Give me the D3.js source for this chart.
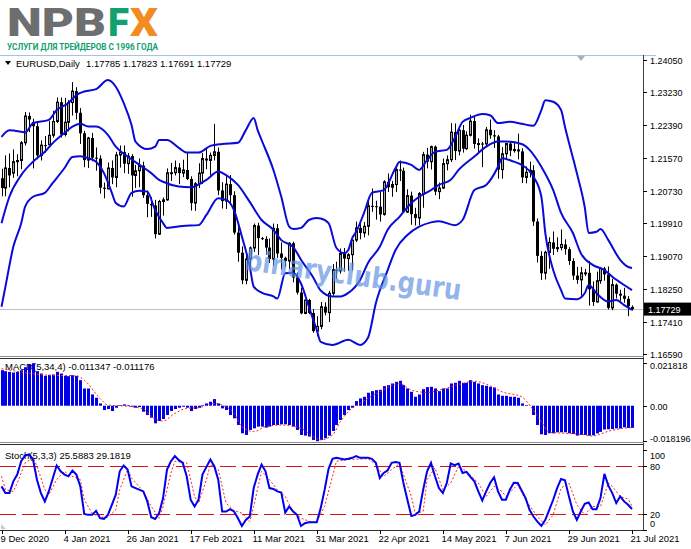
<!DOCTYPE html>
<html><head><meta charset="utf-8">
<script src="https://cdn.jsdelivr.net/npm/d3@7/dist/d3.min.js"></script>
<style>html,body{margin:0;padding:0;background:#fff;}svg{display:block;}</style>
</head><body>
<svg id="chart" width="691" height="549"></svg>
<script>
// ---------- DATA ----------
const symbol = "EURUSD,Daily";
const lastQuote = ["1.17785","1.17823","1.17691","1.17729"];
const lastPrice = 1.17729;

const open = [1.2105,1.2080,1.2131,1.2118,1.2147,1.2150,1.2195,1.2263,1.2248,1.2237,1.2163,1.2189,1.2190,1.2214,1.2249,1.2298,1.2216,1.2247,1.2297,1.2326,1.2271,1.2219,1.2151,1.2207,1.2157,1.2155,1.2081,1.2078,1.2131,1.2107,1.2164,1.2171,1.2142,1.2161,1.2112,1.2124,1.2137,1.2062,1.2040,1.2036,1.1963,1.2046,1.2050,1.2119,1.2119,1.2132,1.2118,1.2126,1.2103,1.2042,1.2091,1.2118,1.2155,1.2150,1.2163,1.2172,1.2074,1.2047,1.2090,1.2062,1.1967,1.1916,1.1846,1.1900,1.1928,1.1985,1.1953,1.1951,1.1929,1.1900,1.1978,1.1914,1.1903,1.1895,1.1940,1.1853,1.1815,1.1762,1.1796,1.1763,1.1717,1.1729,1.1779,1.1764,1.1813,1.1873,1.1870,1.1914,1.1901,1.1911,1.1948,1.1979,1.1966,1.1983,1.2035,1.2034,1.2033,1.2013,1.2096,1.2082,1.2089,1.2127,1.2124,1.2019,1.2061,1.2014,1.2004,1.2066,1.2165,1.2147,1.2185,1.2071,1.2080,1.2142,1.2152,1.2222,1.2174,1.2227,1.2180,1.2214,1.2250,1.2192,1.2193,1.2192,1.2228,1.2214,1.2211,1.2127,1.2167,1.2193,1.2175,1.2178,1.2173,1.2107,1.2120,1.2125,1.1995,1.1908,1.1864,1.1917,1.1942,1.1926,1.1929,1.1937,1.1925,1.1895,1.1858,1.1847,1.1865,1.1865,1.1823,1.1791,1.1845,1.1876,1.1861,1.1776,1.1835,1.1812,1.1807,1.1799,1.17785];
const high = [1.2129,1.2163,1.2168,1.2178,1.2166,1.2199,1.2273,1.2272,1.2256,1.2245,1.2201,1.2212,1.2250,1.2276,1.2310,1.2310,1.2309,1.2303,1.2349,1.2336,1.2283,1.2225,1.2210,1.2220,1.2183,1.2163,1.2094,1.2145,1.2150,1.2172,1.2188,1.2188,1.2169,1.2166,1.2139,1.2155,1.2147,1.2074,1.2057,1.2050,1.2050,1.2056,1.2130,1.2144,1.2150,1.2143,1.2152,1.2169,1.2110,1.2095,1.2143,1.2169,1.2180,1.2170,1.2243,1.2183,1.2095,1.2110,1.2113,1.2072,1.1990,1.1932,1.1912,1.1932,1.1990,1.1992,1.1956,1.1958,1.1952,1.1990,1.1989,1.1942,1.1906,1.1943,1.1944,1.1866,1.1827,1.1797,1.1799,1.1773,1.1755,1.1791,1.1790,1.1819,1.1887,1.1893,1.1927,1.1928,1.1915,1.1949,1.1995,1.1995,1.1994,1.2048,1.2079,1.2048,1.2070,1.2100,1.2117,1.2098,1.2131,1.2150,1.2132,1.2077,1.2071,1.2030,1.2070,1.2172,1.2182,1.2188,1.2188,1.2094,1.2155,1.2163,1.2245,1.2244,1.2230,1.2240,1.2224,1.2266,1.2262,1.2206,1.2197,1.2235,1.2254,1.2227,1.2215,1.2184,1.2194,1.2199,1.2195,1.2218,1.2181,1.2135,1.2147,1.2138,1.2003,1.1920,1.1921,1.1955,1.1970,1.1955,1.1975,1.1950,1.1930,1.1902,1.1880,1.1880,1.1875,1.1895,1.1843,1.1868,1.1880,1.1880,1.1881,1.1850,1.1838,1.1822,1.1827,1.1806,1.17823];
const low = [1.2059,1.2059,1.2082,1.2106,1.2110,1.2128,1.2188,1.2222,1.2130,1.2153,1.2150,1.2170,1.2190,1.2208,1.2245,1.2208,1.2211,1.2224,1.2264,1.2254,1.2192,1.2133,1.2131,1.2148,1.2124,1.2066,1.2054,1.2077,1.2090,1.2082,1.2132,1.2118,1.2116,1.2058,1.2080,1.2082,1.2055,1.2006,1.2007,1.1952,1.1961,1.2010,1.2048,1.2098,1.2112,1.2090,1.2108,1.2100,1.2023,1.2022,1.2080,1.2090,1.2128,1.2112,1.2150,1.2062,1.2028,1.2027,1.2038,1.1962,1.1893,1.1836,1.1836,1.1871,1.1918,1.1910,1.1948,1.1911,1.1890,1.1883,1.1903,1.1873,1.1880,1.1874,1.1841,1.1810,1.1760,1.1760,1.1760,1.1713,1.1704,1.1722,1.1757,1.1740,1.1807,1.1850,1.1863,1.1868,1.1870,1.1871,1.1943,1.1950,1.1955,1.1960,1.2020,1.2000,1.1995,1.2010,1.2070,1.2058,1.2070,1.2098,1.2018,1.2017,1.1987,1.1985,1.1986,1.2030,1.2130,1.2127,1.2062,1.2052,1.2078,1.2125,1.2146,1.2151,1.2163,1.2170,1.2177,1.2211,1.2180,1.2170,1.2133,1.2185,1.2205,1.2182,1.2104,1.2104,1.2154,1.2161,1.2170,1.2153,1.2093,1.2092,1.2107,1.1984,1.1891,1.1847,1.1848,1.1875,1.1910,1.1918,1.1922,1.1911,1.1885,1.1847,1.1837,1.1807,1.1857,1.1782,1.1781,1.1790,1.1837,1.1845,1.1772,1.1770,1.1800,1.1794,1.1789,1.1755,1.17691];
const close = [1.2080,1.2131,1.2112,1.2147,1.2150,1.2195,1.2263,1.2254,1.2237,1.2163,1.2189,1.2187,1.2214,1.2249,1.2298,1.2216,1.2247,1.2297,1.2326,1.2271,1.2219,1.2151,1.2207,1.2157,1.2155,1.2081,1.2078,1.2131,1.2107,1.2164,1.2171,1.2142,1.2161,1.2112,1.2124,1.2137,1.2062,1.2040,1.2036,1.1963,1.2046,1.2050,1.2119,1.2119,1.2132,1.2118,1.2126,1.2103,1.2042,1.2091,1.2118,1.2155,1.2150,1.2163,1.2172,1.2074,1.2047,1.2090,1.2062,1.1967,1.1916,1.1846,1.1900,1.1928,1.1985,1.1953,1.1951,1.1929,1.1900,1.1978,1.1914,1.1903,1.1895,1.1940,1.1853,1.1815,1.1762,1.1796,1.1763,1.1717,1.1729,1.1779,1.1764,1.1813,1.1873,1.1870,1.1914,1.1901,1.1911,1.1948,1.1979,1.1966,1.1983,1.2035,1.2034,1.2033,1.2013,1.2096,1.2082,1.2089,1.2127,1.2124,1.2019,1.2061,1.2014,1.2004,1.2066,1.2165,1.2147,1.2185,1.2071,1.2080,1.2142,1.2152,1.2222,1.2174,1.2227,1.2180,1.2214,1.2250,1.2192,1.2193,1.2192,1.2228,1.2214,1.2211,1.2127,1.2167,1.2193,1.2175,1.2178,1.2173,1.2107,1.2120,1.2125,1.1995,1.1908,1.1864,1.1917,1.1942,1.1926,1.1929,1.1937,1.1925,1.1895,1.1858,1.1847,1.1865,1.1865,1.1823,1.1791,1.1845,1.1876,1.1861,1.1776,1.1835,1.1812,1.1807,1.1799,1.1780,1.17729];

// Bollinger bands: [bar index, price]
const bandUpper = [[0,1.2210],[2,1.2227],[5,1.2223],[6,1.2221],[8,1.2245],[12,1.2253],[14,1.2278],[17,1.2296],[19,1.2316],[21,1.2325],[24,1.2331],[27,1.2354],[29,1.2337],[31,1.2296],[33,1.2240],[34,1.2198],[37,1.2179],[39,1.2185],[40,1.2202],[42,1.2202],[45,1.2182],[47,1.2170],[50,1.2170],[53,1.2187],[56,1.2192],[60,1.2195],[62,1.2227],[64,1.2258],[65,1.2227],[66,1.2202],[69,1.2126],[71,1.2058],[73,1.1982],[74,1.1976],[76,1.1979],[78,1.1999],[80,1.2004],[81,1.2003],[83,1.1991],[85,1.1928],[87,1.1915],[88,1.1923],[89,1.1953],[90,1.1969],[92,1.2017],[94,1.2068],[97,1.2075],[100,1.2131],[101,1.2146],[104,1.2139],[106,1.2126],[108,1.2151],[110,1.2172],[113,1.2177],[115,1.2207],[117,1.2248],[119,1.2258],[122,1.2268],[124,1.2265],[126,1.2245],[129,1.2248],[132,1.2243],[135,1.2238],[137,1.2278],[138,1.2303],[140,1.2299],[142,1.2278],[143,1.2235],[146,1.2118],[148,1.2032],[149,1.1966],[151,1.1969],[152,1.1976],[154,1.1948],[157,1.1898],[159,1.1880],[160,1.1877]];
const bandMiddle = [[0,1.1991],[2,1.2058],[5,1.2113],[8,1.2147],[11,1.2172],[13,1.2194],[16,1.2220],[18,1.2236],[20,1.2243],[22,1.2236],[24,1.2236],[27,1.2215],[29,1.2185],[32,1.2160],[35,1.2139],[38,1.2118],[40,1.2101],[41,1.2096],[45,1.2084],[48,1.2082],[52,1.2101],[55,1.2122],[57,1.2113],[60,1.2088],[63,1.2045],[66,1.1999],[69,1.1974],[71,1.1948],[74,1.1931],[76,1.1898],[79,1.1855],[81,1.1820],[84,1.1805],[86,1.1805],[88,1.1814],[91,1.1847],[93,1.1890],[96,1.1931],[98,1.1974],[101,1.2007],[104,1.2042],[106,1.2058],[109,1.2075],[111,1.2088],[114,1.2101],[116,1.2126],[120,1.2160],[123,1.2185],[126,1.2198],[128,1.2198],[132,1.2192],[134,1.2177],[137,1.2134],[140,1.2075],[142,1.2017],[145,1.1966],[147,1.1915],[150,1.1885],[153,1.1872],[155,1.1855],[158,1.1834],[160,1.1821]];
const bandLower = [[0,1.1779],[1,1.1830],[3,1.1931],[5,1.1991],[6,1.2033],[8,1.2058],[11,1.2068],[13,1.2093],[16,1.2131],[18,1.2159],[20,1.2161],[22,1.2156],[24,1.2147],[26,1.2118],[28,1.2068],[29,1.2042],[31,1.2033],[33,1.2068],[35,1.2073],[37,1.2071],[39,1.2024],[41,1.1991],[42,1.1979],[46,1.1984],[50,1.1986],[52,1.2012],[55,1.2054],[57,1.2050],[59,1.2024],[61,1.1957],[63,1.1881],[64,1.1830],[66,1.1815],[69,1.1805],[70,1.1800],[72,1.1864],[74,1.1865],[76,1.1838],[78,1.1779],[80,1.1720],[81,1.1690],[84,1.1682],[88,1.1695],[91,1.1682],[93,1.1700],[95,1.1788],[98,1.1872],[100,1.1923],[103,1.1961],[106,1.1982],[109,1.1993],[111,1.1996],[115,1.1986],[117,1.1999],[120,1.2075],[123,1.2088],[126,1.2134],[127,1.2156],[130,1.2147],[132,1.2139],[135,1.2109],[137,1.2058],[138,1.1966],[140,1.1872],[142,1.1821],[143,1.1800],[146,1.1798],[148,1.1813],[149,1.1834],[151,1.1813],[154,1.1792],[156,1.1796],[158,1.1783],[160,1.1771]];

// MACD(5,34,4)
const macdHist = [0.01823,0.01771,0.01737,0.01703,0.01737,0.01823,0.01976,0.02129,0.02182,0.01771,0.01652,0.01533,0.01584,0.01601,0.01737,0.01652,0.01533,0.01516,0.01567,0.01533,0.01312,0.00886,0.00886,0.00579,0.00409,0.00119,-0.00221,-0.00170,-0.00273,-0.00102,0.00034,0.00068,0.00034,-0.00051,-0.00102,-0.00068,-0.00307,-0.00477,-0.00613,-0.00903,-0.00784,-0.00681,-0.00477,-0.00273,-0.00170,-0.00102,-0.00051,-0.00102,-0.00273,-0.00170,-0.00102,0.00034,0.00119,0.00204,0.00341,0.00119,-0.00136,-0.00221,-0.00477,-0.00647,-0.00988,-0.01414,-0.01499,-0.01243,-0.01158,-0.01073,-0.01073,-0.01124,-0.01073,-0.00988,-0.00988,-0.00954,-0.00954,-0.00988,-0.01073,-0.01243,-0.01499,-0.01533,-0.01584,-0.01754,-0.01820,-0.01754,-0.01669,-0.01533,-0.01294,-0.00988,-0.00732,-0.00477,-0.00221,-0.00102,0.00238,0.00375,0.00460,0.00664,0.00749,0.00801,0.00818,0.01005,0.01056,0.01141,0.01226,0.01278,0.01056,0.00886,0.00715,0.00460,0.00579,0.00852,0.00954,0.00971,0.00886,0.00749,0.00886,0.00886,0.01141,0.01175,0.01278,0.01175,0.01175,0.01312,0.01226,0.01141,0.01056,0.01022,0.00971,0.00937,0.00579,0.00511,0.00511,0.00460,0.00460,0.00409,0.00119,0.00034,-0.00010,-0.00477,-0.00988,-0.01465,-0.01499,-0.01414,-0.01414,-0.01363,-0.01363,-0.01363,-0.01414,-0.01448,-0.01533,-0.01499,-0.01499,-0.01533,-0.01520,-0.01420,-0.01340,-0.01220,-0.01210,-0.01200,-0.01160,-0.01170,-0.01110,-0.01140,-0.011347];
const macdSignal = [[0,0.0190],[12,0.01567],[19,0.01533],[21,0.01312],[25,0.00375],[27,0.00034],[30,0.0],[33,-0.00051],[36,-0.0017],[38,-0.00562],[41,-0.00784],[44,-0.00392],[47,-0.00136],[50,-0.00102],[54,0.00119],[56,0.00034],[59,-0.00392],[61,-0.01073],[64,-0.01329],[67,-0.01073],[71,-0.00988],[76,-0.01158],[79,-0.01584],[81,-0.01754],[84,-0.01499],[86,-0.00818],[88,-0.00307],[91,0.00119],[96,0.00715],[101,0.01141],[104,0.00801],[108,0.00681],[112,0.00852],[117,0.01141],[120,0.0126],[124,0.01022],[127,0.00715],[132,0.0046],[134,0.00034],[137,-0.00818],[139,-0.01363],[143,-0.01414],[147,-0.01465],[150,-0.0155],[154,-0.0131],[157,-0.0118],[160,-0.011176]];
const macdLabel = "MACD(5,34,4) -0.011347 -0.011176";

// Stochastic(5,3,3)
const stochMain = [[0,53.9],[1,45.5],[2,45.5],[3,60.2],[4,68.6],[5,85.4],[6,92.6],[7,93.8],[8,87.5],[9,62.3],[10,45.5],[11,35.1],[12,47.6],[14,80.0],[15,72.8],[16,68.6],[17,66.5],[18,73.7],[19,68.6],[20,53.9],[21,19.5],[22,18.3],[23,18.3],[24,23.3],[25,14.1],[26,13.2],[27,18.3],[28,30.9],[29,43.5],[30,72.8],[31,80.0],[32,74.9],[33,53.9],[34,51.8],[36,47.6],[37,35.1],[38,15.3],[39,13.2],[40,20.4],[41,39.3],[42,74.9],[43,85.4],[44,91.8],[45,86.7],[46,83.3],[47,66.5],[48,37.2],[49,28.8],[50,37.2],[51,68.6],[52,78.3],[53,87.5],[54,79.1],[55,62.3],[56,22.5],[57,22.5],[58,25.4],[59,22.5],[60,14.1],[61,4.4],[62,12.0],[63,16.2],[64,51.8],[65,68.6],[66,81.2],[67,72.8],[68,51.8],[69,50.6],[70,47.6],[71,46.3],[72,21.2],[73,28.8],[74,22.5],[75,18.3],[76,4.4],[77,7.8],[78,9.0],[79,9.0],[80,9.0],[81,26.7],[82,49.7],[83,75.8],[84,88.4],[85,89.6],[87,87.5],[88,88.4],[89,89.6],[90,91.8],[91,89.6],[93,89.6],[94,88.4],[95,83.3],[96,64.4],[97,70.7],[98,74.1],[99,83.3],[100,84.2],[101,83.3],[102,58.1],[103,37.2],[104,17.0],[105,18.3],[106,22.5],[107,49.7],[108,72.8],[109,83.3],[110,66.5],[111,51.8],[112,45.5],[113,58.1],[114,82.5],[115,80.4],[116,82.5],[117,70.7],[118,72.0],[119,65.7],[120,60.2],[121,47.6],[122,36.3],[123,47.6],[124,58.1],[125,65.3],[126,47.6],[127,37.2],[128,37.2],[129,49.7],[130,58.5],[131,58.1],[133,39.3],[134,24.6],[135,16.2],[136,9.9],[137,4.4],[138,12.0],[139,24.6],[140,37.2],[141,51.8],[142,63.2],[143,61.5],[144,41.3],[145,22.5],[146,12.0],[147,22.5],[148,32.1],[149,33.8],[150,25.4],[151,25.4],[152,39.3],[153,69.5],[154,54.8],[155,45.5],[156,33.0],[157,41.3],[158,35.1],[159,30.9],[160,25.5883]];
const stochSignal = [[0,66.5],[1,49.7],[3,47.6],[4,58.1],[6,83.3],[8,89.6],[9,79.1],[11,49.7],[12,43.5],[14,62.3],[16,72.8],[17,68.6],[20,62.3],[21,37.2],[23,20.4],[25,15.3],[27,15.3],[29,24.6],[30,49.7],[32,74.9],[33,64.4],[36,47.6],[38,28.8],[40,14.1],[41,28.8],[43,70.7],[44,85.4],[47,83.3],[49,41.3],[50,33.0],[52,62.3],[53,81.2],[55,74.9],[57,33.0],[59,23.7],[61,20.4],[63,9.9],[64,28.8],[66,72.8],[68,62.3],[70,49.7],[72,41.3],[74,22.5],[76,14.1],[79,8.6],[80,9.9],[82,28.8],[84,66.5],[85,85.4],[88,87.5],[93,88.4],[95,81.2],[97,66.5],[99,74.9],[101,82.5],[104,41.3],[105,20.4],[107,22.5],[108,62.3],[110,77.0],[112,49.7],[114,58.1],[116,79.1],[118,72.8],[121,58.1],[123,41.3],[125,53.9],[127,47.6],[128,41.3],[131,56.0],[133,37.2],[136,16.2],[138,5.7],[140,18.3],[142,51.8],[144,58.1],[146,30.9],[148,18.3],[150,28.8],[152,28.8],[154,58.1],[155,53.9],[157,41.3],[159,38.0],[160,29.1819]];
const stochLabel = "Stoch(5,3,3) 25.5883 29.1819";
const stochLevels = [80, 20];

// Axis ticks
const priceTicks = [1.24050,1.23230,1.22390,1.21570,1.20730,1.19910,1.19070,1.18250,1.17410,1.16590];
const macdTicks = [0.021818, 0, -0.018196];
const macdTickLabels = ["0.021818","0.00","-0.018196"];
const stochTicks = [100, 80, 20, 0];
const dateTickIdx = [0,16,32,48,64,80,96,112,128,144,160];
const dateTickLabels = ["9 Dec 2020","4 Jan 2021","26 Jan 2021","17 Feb 2021","11 Mar 2021","31 Mar 2021","22 Apr 2021","14 May 2021","7 Jun 2021","29 Jun 2021","21 Jul 2021"];

// ---------- DRAW ----------
const svg = d3.select('#chart');
const FONT = "'Liberation Sans', Arial, sans-serif";
const R = 643;
const P = {main:[55.5,356], macd:[359,442], sto:[445,530]};

const x = d3.scaleLinear().domain([0,160]).range([1.5,632]);
const yP = d3.scaleLinear().domain([1.16590,1.24050]).range([354,60]);
const yM = d3.scaleLinear().domain([-0.018196,0.021818]).range([441.2,363.2]);
const yS = d3.scaleLinear().domain([0,100]).range([529.5,449.5]);

const defs = svg.append('defs');
Object.entries(P).forEach(([k,[a,b]])=>{
  defs.append('clipPath').attr('id','clip-'+k).append('rect').attr('x',0).attr('y',a).attr('width',R).attr('height',b-a);
});

// logo
const LOGOFONT = "Roboto, 'Liberation Sans', sans-serif";
const logo = svg.append('g');
logo.append('text').attr('x',7).attr('y',35.5).attr('font-family',LOGOFONT).attr('font-weight',900)
  .attr('font-size',38).attr('fill','#6d6e70').attr('textLength',99).attr('lengthAdjust','spacingAndGlyphs').text('NPB');
logo.append('text').attr('x',108).attr('y',35.5).attr('font-family',LOGOFONT).attr('font-weight',900)
  .attr('font-size',38).attr('fill','#13a070').attr('textLength',21).attr('lengthAdjust','spacingAndGlyphs').text('F');
logo.append('text').attr('x',130).attr('y',35.5).attr('font-family',LOGOFONT).attr('font-weight',900)
  .attr('font-size',38).attr('fill','#f28c1e').attr('textLength',28).attr('lengthAdjust','spacingAndGlyphs').text('X');
logo.append('text').attr('x',7).attr('y',50).attr('font-family',LOGOFONT).attr('font-weight',700)
  .attr('font-size',9).attr('fill','#13a070').attr('textLength',151).attr('lengthAdjust','spacingAndGlyphs').text('УСЛУГИ ДЛЯ ТРЕЙДЕРОВ С 1996 ГОДА');

// frames
svg.append('line').attr('x1',0).attr('x2',656).attr('y1',55.5).attr('y2',55.5).attr('stroke','#a8c4dc');
svg.append('line').attr('x1',643.5).attr('x2',643.5).attr('y1',55).attr('y2',531).attr('stroke','#404040');
[[356.5,'#909090'],[358.5,'#303030'],[442.5,'#909090'],[444.5,'#303030'],[530.5,'#303030']].forEach(([yy,c])=>{
  svg.append('line').attr('x1',0).attr('x2',644).attr('y1',yy).attr('y2',yy).attr('stroke',c);
});
svg.append('path').attr('d','M577,56 L585,56 L581,61 Z').attr('fill','#b0b0b0');

// header
svg.append('path').attr('d','M5,61 L11,61 L8,65 Z').attr('fill','#000');
svg.append('text').attr('x',16).attr('y',67).attr('font-family',FONT).attr('font-size',9.5).attr('fill','#000').text(symbol);
svg.append('text').attr('x',86).attr('y',67).attr('font-family',FONT).attr('font-size',9.5).attr('fill','#000').text(lastQuote.join(' '));

// main panel
const gMain = svg.append('g').attr('clip-path','url(#clip-main)');
gMain.append('line').attr('x1',0).attr('x2',R).attr('y1',Math.round(yP(lastPrice))+0.5).attr('y2',Math.round(yP(lastPrice))+0.5).attr('stroke','#c0c0c0');
const idx = d3.range(close.length);
gMain.selectAll('line.wick').data(idx).join('line').attr('class','wick')
  .attr('x1',i=>Math.round(x(i))+0.5).attr('x2',i=>Math.round(x(i))+0.5)
  .attr('y1',i=>yP(high[i])).attr('y2',i=>yP(low[i])).attr('stroke','#000').attr('stroke-width',1);
gMain.selectAll('rect.body').data(idx).join('rect').attr('class','body')
  .attr('x',i=>Math.round(x(i))-1+(close[i]>=open[i]?0.5:0))
  .attr('width',i=>close[i]>=open[i]?2:3)
  .attr('y',i=>yP(Math.max(open[i],close[i])))
  .attr('height',i=>Math.max(1,yP(Math.min(open[i],close[i]))-yP(Math.max(open[i],close[i]))))
  .attr('fill',i=>close[i]>=open[i]?'#a8a8a8':'#000')
  .attr('stroke',i=>close[i]>=open[i]?'#000':'none').attr('stroke-width',1);

const bandLine = d3.line().x(d=>x(d[0])).y(d=>yP(d[1])).curve(d3.curveMonotoneX);
[bandUpper,bandMiddle,bandLower].forEach(b=>{
  gMain.append('path').attr('d',bandLine(b)).attr('fill','none').attr('stroke','#0a0ad8').attr('stroke-width',2);
});

// price axis
const gPA = svg.append('g');
priceTicks.forEach(v=>{
  const yy = Math.round(yP(v))+0.5;
  gPA.append('line').attr('x1',643).attr('x2',647).attr('y1',yy).attr('y2',yy).attr('stroke','#000');
  gPA.append('text').attr('x',650).attr('y',yy+3.5).attr('font-family',FONT).attr('font-size',9).attr('fill','#000').text(v.toFixed(5));
});
const ly = yP(lastPrice);
gPA.append('rect').attr('x',644).attr('y',ly-6.5).attr('width',47).attr('height',13).attr('fill','#000');
gPA.append('text').attr('x',648).attr('y',ly+3.5).attr('font-family',FONT).attr('font-size',9).attr('fill','#fff').text(lastPrice.toFixed(5));

// MACD panel (label first, series drawn over it as in the terminal)
svg.append('text').attr('x',5).attr('y',370).attr('font-family',FONT).attr('font-size',9.5).attr('fill','#000').text(macdLabel);
const gM = svg.append('g').attr('clip-path','url(#clip-macd)');
gM.selectAll('rect.h').data(macdHist).join('rect').attr('class','h')
  .attr('x',(d,i)=>Math.round(x(i))-1).attr('width',3)
  .attr('y',d=>Math.min(yM(0),yM(d))).attr('height',d=>Math.abs(yM(d)-yM(0)))
  .attr('fill','#0000e8');
gM.append('path').attr('d',d3.line().x(d=>x(d[0])).y(d=>yM(d[1])).curve(d3.curveMonotoneX)(macdSignal))
  .attr('fill','none').attr('stroke','#ff2020').attr('stroke-width',1).attr('stroke-dasharray','2,2');
macdTicks.forEach((v,k)=>{
  const yy = Math.round(yM(v))+0.5;
  svg.append('line').attr('x1',643).attr('x2',647).attr('y1',yy).attr('y2',yy).attr('stroke','#000');
  const ty = Math.min(Math.max(yy,365),438.5);
  svg.append('text').attr('x',650).attr('y',ty+3.5).attr('font-family',FONT).attr('font-size',9).attr('fill','#000').text(macdTickLabels[k]);
});

// Stochastic panel
svg.append('text').attr('x',5).attr('y',459).attr('font-family',FONT).attr('font-size',9.5).attr('fill','#000').text(stochLabel);
const gS = svg.append('g').attr('clip-path','url(#clip-sto)');
stochLevels.forEach(v=>{
  gS.append('line').attr('x1',0).attr('x2',R).attr('y1',Math.round(yS(v))+0.5).attr('y2',Math.round(yS(v))+0.5)
    .attr('stroke','#dd1111').attr('stroke-dasharray','16,6');
});
const sLine = d3.line().x(d=>x(d[0])).y(d=>yS(d[1]));
gS.append('path').attr('d',sLine(stochSignal)).attr('fill','none').attr('stroke','#ff2020').attr('stroke-width',1).attr('stroke-dasharray','2,2');
gS.append('path').attr('d',sLine(stochMain)).attr('fill','none').attr('stroke','#0000ee').attr('stroke-width',2);
stochTicks.forEach(v=>{
  const yy = Math.round(yS(v))+0.5;
  svg.append('line').attr('x1',643).attr('x2',647).attr('y1',yy).attr('y2',yy).attr('stroke','#000');
  const ty = Math.min(Math.max(yy,455),523);
  svg.append('text').attr('x',650).attr('y',ty+3.5).attr('font-family',FONT).attr('font-size',9).attr('fill','#000').text(v);
});

// time axis
dateTickIdx.forEach((i,k)=>{
  const xx = Math.round(x(i))+0.5;
  svg.append('line').attr('x1',xx).attr('x2',xx).attr('y1',530).attr('y2',534).attr('stroke','#000');
  svg.append('text').attr('x',xx-2).attr('y',542).attr('font-family',FONT).attr('font-size',9.5).attr('fill','#000').text(dateTickLabels[k]);
});
svg.append('path').attr('d','M1,524 L6,529 L1,529 Z').attr('fill','#c8c8c8');

// watermark
svg.append('text').attr('transform','translate(352,285) rotate(8)').attr('text-anchor','middle')
  .attr('font-family',"'DejaVu Sans', sans-serif").attr('font-weight','bold').attr('font-size',29)
  .attr('textLength',218).attr('lengthAdjust','spacingAndGlyphs')
  .attr('fill','#5f92e2').attr('fill-opacity',0.7).text('binaryclub.guru');
</script>
</body></html>
